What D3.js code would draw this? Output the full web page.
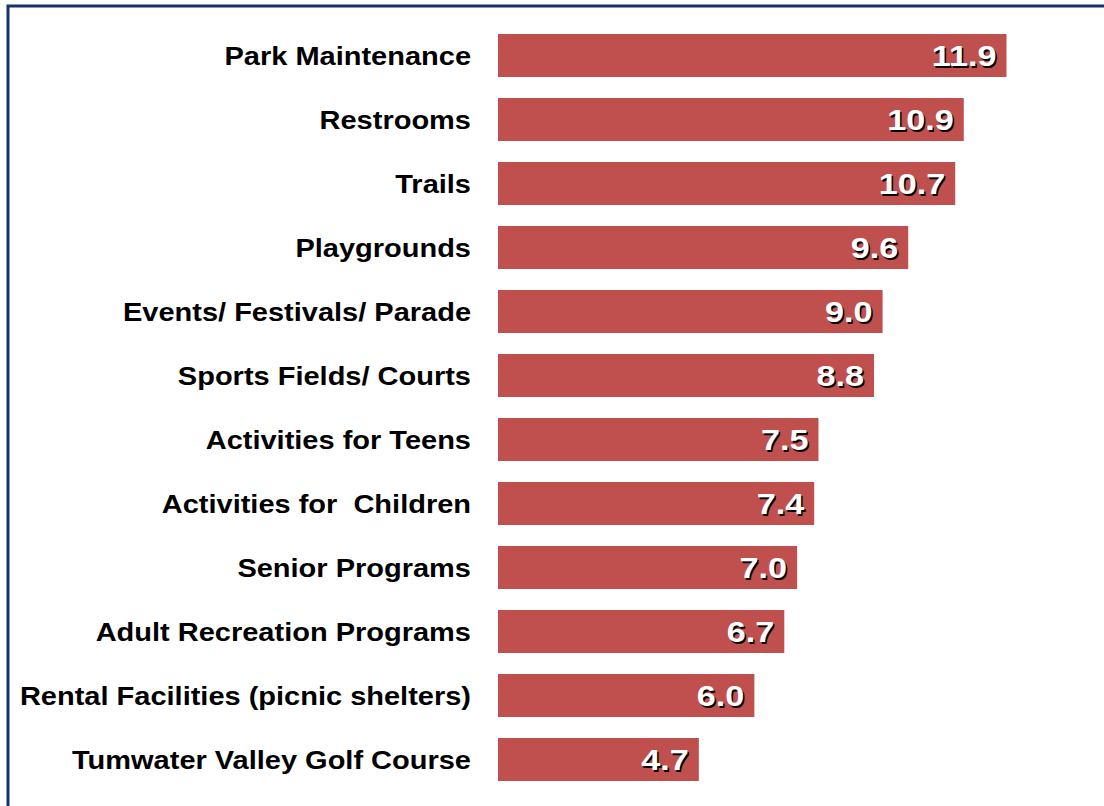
<!DOCTYPE html>
<html>
<head>
<meta charset="utf-8">
<style>
  body { margin: 0; background: #fff; }
  svg { display: block; }
</style>
</head>
<body>
<div id="chart"></div>
<script src="https://d3js.org/d3.v7.min.js"></script>
<script>
// categories and values, read top to bottom
var categories = [
  "Park Maintenance",
  "Restrooms",
  "Trails",
  "Playgrounds",
  "Events/ Festivals/ Parade",
  "Sports Fields/ Courts",
  "Activities for Teens",
  "Activities for  Children",
  "Senior Programs",
  "Adult Recreation Programs",
  "Rental Facilities (picnic shelters)",
  "Tumwater Valley Golf Course"
];
var values = [11.9, 10.9, 10.7, 9.6, 9.0, 8.8, 7.5, 7.4, 7.0, 6.7, 6.0, 4.7];

var W = 1104, H = 806;
var step = 64, pad = 21 / 64;

var svg = d3.select("#chart").append("svg")
    .attr("width", W)
    .attr("height", H);

// frame
svg.append("rect")
    .attr("x", 8)
    .attr("y", 6)
    .attr("width", W + 20)
    .attr("height", H + 20)
    .attr("fill", "none")
    .attr("stroke", "#17306e")
    .attr("stroke-width", 3);

var x = d3.scaleLinear()
    .domain([0, 11.9])
    .range([498, 1006.5]);

var y0 = 34 - pad * step;
var y = d3.scaleBand()
    .domain(categories)
    .range([y0, y0 + step * (categories.length - pad + 2 * pad)])
    .paddingInner(pad)
    .paddingOuter(pad);

var data = categories.map(function(c, i) { return {name: c, value: values[i]}; });

var rows = svg.append("g").selectAll("g")
    .data(data)
    .enter().append("g");

rows.append("rect")
    .attr("x", x(0))
    .attr("y", function(d) { return y(d.name); })
    .attr("width", function(d) { return x(d.value) - x(0); })
    .attr("height", y.bandwidth())
    .attr("fill", "#c0504d");

// category labels (slightly stretched like the original)
rows.append("text")
    .attr("transform", function(d) {
      return "translate(471," + (y(d.name) + y.bandwidth() / 2) + ") scale(1.16,1)";
    })
    .attr("dy", "0.36em")
    .attr("text-anchor", "end")
    .style("font-family", "Liberation Sans, Arial, sans-serif")
    .style("font-weight", "bold")
    .style("font-size", "25px")
    .style("white-space", "pre")
    .attr("fill", "#000")
    .text(function(d) { return d.name; });

// value labels: shadow then white
function valueLabel(dx, dy, fill) {
  rows.append("text")
      .attr("transform", function(d) {
        return "translate(" + (x(d.value) - 10 + dx) + "," + (y(d.name) + y.bandwidth() / 2 + dy) + ") scale(1.14,1)";
      })
      .attr("dy", "0.36em")
      .attr("text-anchor", "end")
      .style("font-family", "Liberation Sans, Arial, sans-serif")
      .style("font-weight", "bold")
      .style("font-size", "30px")
      .attr("fill", fill)
      .text(function(d) { return d.value.toFixed(1); });
}
valueLabel(1.5, 1.5, "#000");
valueLabel(0, 0, "#fff");
</script>
</body>
</html>
